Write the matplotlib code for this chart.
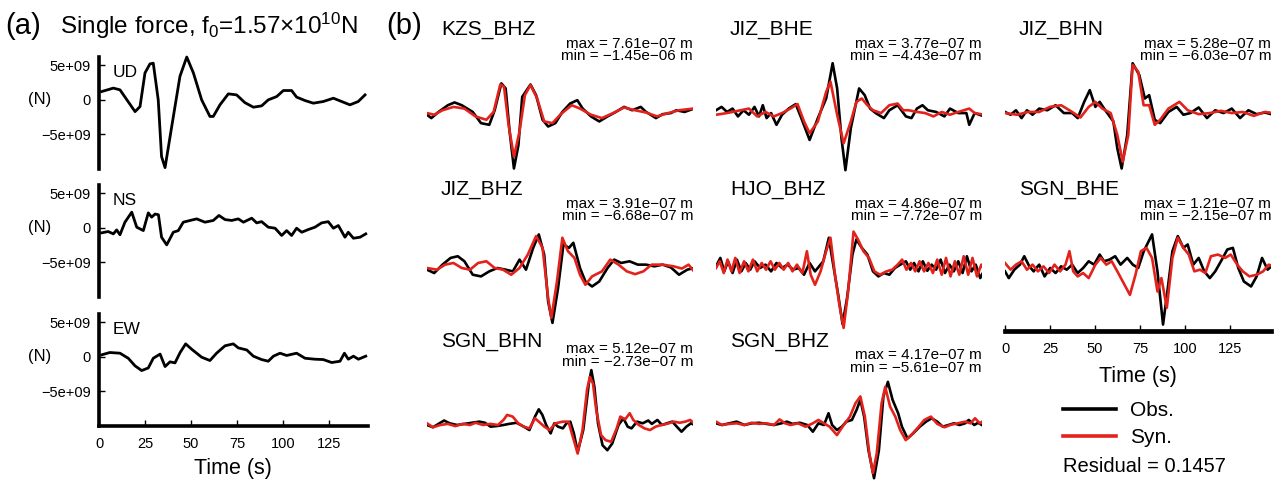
import matplotlib.pyplot as plt
from matplotlib.lines import Line2D

plt.rcParams["font.family"] = ["Liberation Sans", "DejaVu Sans"]
plt.rcParams["mathtext.fontset"] = "custom"
plt.rcParams["mathtext.rm"] = "Liberation Sans"
plt.rcParams["mathtext.it"] = "Liberation Sans:italic"

# ---------------- panel (a): single force time functions (1e9 N) -------------
COMPONENTS = ["UD", "NS", "EW"]
UD = [[1.4, 1.2], [7.8, 1.7], [11.4, 1.45], [19.6, -1.7], [22.3, -0.97], [25.0, 3.9],
      [27.7, 5.2], [29.5, 5.3], [32.2, 0.0], [34.0, -8.2], [35.9, -9.8], [39.5, -3.9],
      [44.0, 3.4], [47.7, 6.2], [51.3, 3.9], [55.8, 0.0], [60.3, -2.4], [62.1, -2.4],
      [65.8, -0.7], [70.3, 0.87], [74.8, 0.72], [79.3, -0.4], [83.9, -1.06], [88.4, -0.87],
      [92.0, 0.0], [96.6, 0.48], [100.2, 1.35], [104.7, 1.35], [107.4, 0.4], [112.0, -0.1],
      [116.5, -0.48], [121.9, -0.24], [127.4, 0.24], [131.9, -0.24], [136.4, -0.72],
      [140.9, -0.24], [144.6, 0.72]]
NS = [[1.4, -0.72], [5.0, -0.53], [7.8, -0.87], [9.6, -0.3], [11.4, -1.0], [14.1, 0.82],
      [17.8, 2.27], [20.5, 0.1], [24.1, -0.39], [26.8, 2.17], [28.6, 1.55], [30.5, 2.0],
      [32.3, 1.9], [34.0, -1.35], [36.8, -2.46], [40.4, -0.63], [43.1, -0.4], [45.8, 0.82],
      [49.5, 1.07], [53.1, 1.3], [57.6, 0.82], [62.1, 1.07], [65.2, 1.79], [68.5, 1.2],
      [72.1, 1.07], [75.7, 1.3], [78.5, 0.82], [83.0, 1.4], [85.7, 0.72], [88.4, 0.9],
      [92.0, 0.1], [95.7, -0.05], [99.3, -1.1], [102.0, -0.4], [104.7, -1.1], [107.4, -0.05],
      [110.2, -0.63], [113.8, -0.24], [117.4, 0.1], [121.0, 0.72], [124.6, 0.9],
      [127.4, -0.05], [130.1, 0.34], [133.7, -1.35], [135.5, -0.63], [138.3, -1.5],
      [141.9, -1.35], [145.0, -0.87]]
EW = [[1.4, 0.29], [5.9, 0.63], [11.4, 0.53], [15.9, -0.2], [19.6, -1.3], [23.2, -1.98],
      [26.8, -1.6], [29.5, -0.2], [33.2, 0.4], [35.9, -1.4], [38.6, -0.72], [41.3, -0.87],
      [44.1, 0.63], [47.1, 1.88], [50.4, 1.1], [55.8, -0.05], [60.3, -0.53], [63.9, 0.53],
      [68.5, 1.6], [73.0, 1.88], [75.7, 1.3], [80.3, 1.0], [83.9, 0.1], [88.4, -0.39],
      [92.0, -0.63], [94.8, 0.1], [98.4, 0.53], [102.0, 0.2], [107.4, 0.53], [112.0, -0.2],
      [117.4, -0.34], [121.9, -0.39], [126.5, -0.82], [131.0, -0.63], [133.4, 0.53],
      [135.5, -0.34], [138.3, 0.1], [141.0, -0.34], [145.0, 0.1]]
FORCE = [UD, NS, EW]

# ---------------- panel (b): normalised waveforms ----------------------------
STATIONS = ["KZS_BHZ", "JIZ_BHE", "JIZ_BHN", "JIZ_BHZ", "HJO_BHZ", "SGN_BHE",
            "SGN_BHN", "SGN_BHZ"]
AMP_MAX = [7.61e-07, 3.77e-07, 5.28e-07, 3.91e-07, 4.86e-07, 1.21e-07, 5.12e-07, 4.17e-07]
AMP_MIN = [-1.45e-06, -4.43e-07, -6.03e-07, -6.68e-07, -7.72e-07, -2.15e-07,
           -2.73e-07, -5.61e-07]
RESIDUAL = 0.1457

KZS_BHZ_OBS = [[0, -0.04], [2.4, -0.1], [6.4, 0.01], [11.6, 0.13], [15.3, 0.18], [19.3, 0.13],
               [25.4, 0.01], [30, -0.19], [34.6, -0.22], [37.6, 0.04], [41.3, 0.52],
               [43.7, 0.43], [45.9, -0.34], [48.3, -1.0], [50.8, -0.58], [52.9, 0.28],
               [57.5, 0.5], [60.6, 0.31], [64.2, -0.13], [67.3, -0.25], [71.3, -0.19],
               [75.2, 0.01], [79.5, 0.16], [83.5, 0.22], [86.5, 0.07], [91.1, -0.07],
               [95.7, -0.16], [100.3, -0.07], [104.9, 0.01], [109.5, 0.1], [114, 0.04],
               [118.7, 0.1], [121.7, 0.01], [127.2, -0.1], [130.9, -0.03], [135.5, -0.01],
               [138.5, 0.04], [143.1, 0.01], [148.3, 0.07]]
KZS_BHZ_SYN = [[0, -0.01], [4, -0.04], [8.6, 0.04], [14.7, 0.1], [20.8, 0.07], [26.9, -0.07],
               [33, -0.13], [37, 0.01], [40.7, 0.5], [42.8, 0.46], [45.3, -0.22],
               [48.3, -0.79], [51.4, -0.34], [54.4, 0.31], [57.5, 0.49], [61.2, 0.25],
               [65.1, -0.16], [69.7, -0.19], [74.3, -0.03], [80.4, 0.13], [85, 0.07],
               [91.1, -0.04], [97.2, -0.1], [103.4, -0.01], [109.5, 0.09], [115.6, 0.04],
               [121.7, 0], [127.8, -0.07], [134, -0.01], [140, 0.04], [148, 0.07]]
JIZ_BHE_OBS = [[0, 0.04], [3.1, 0.1], [6.1, 0.01], [9.2, 0.07], [12.2, -0.07], [15.3, 0.04],
               [18.3, -0.04], [21.4, 0.1], [23.9, -0.07], [26, 0.13], [28.1, -0.1],
               [30.6, -0.01], [33.6, -0.22], [36.7, -0.04], [40.4, 0.07], [44.3, 0.15],
               [47.4, -0.1], [52, -0.49], [56.6, -0.1], [61.2, 0.25], [64.8, 0.88],
               [67.3, 0.43], [69.7, -0.46], [71.9, -1.03], [74.9, -0.28], [79.5, 0.43],
               [82.6, 0.31], [85.6, 0.07], [88.7, -0.01], [93.3, -0.1], [96.3, 0.04],
               [100.9, 0.13], [105.5, -0.07], [108.6, -0.1], [111.6, 0.07], [114.7, 0.13],
               [117.7, 0.04], [122.3, 0.01], [126.9, -0.07], [130, 0.07], [134.6, -0.01],
               [139.1, -0.01], [140.7, -0.22], [143.7, -0.01], [149, -0.07]]
JIZ_BHE_SYN = [[0, -0.04], [6.1, -0.01], [12.2, 0.03], [18.3, 0.07], [22.9, -0.07],
               [27.5, 0.01], [32.1, -0.07], [36.7, -0.01], [41.3, 0.07], [45.3, 0.15],
               [48.9, -0.16], [52, -0.37], [56.6, -0.16], [61.2, 0.37], [63.6, 0.55],
               [67.3, -0.04], [70.9, -0.55], [74.9, -0.16], [78, 0.19], [81, 0.25],
               [84.1, 0.13], [87.2, 0.04], [91.7, -0.01], [96.3, 0.13], [100.9, 0.16],
               [104, 0.04], [107, 0.04], [111.6, 0.01], [116.2, -0.01], [120.8, -0.07],
               [125.4, 0.01], [130, -0.04], [134.6, 0.01], [140.7, 0.07], [143.7, -0.01],
               [149, -0.04]]
JIZ_BHN_OBS = [[0, 0.01], [3.1, -0.04], [6.1, 0.04], [9.2, -0.1], [12.2, 0.04], [15.3, -0.04],
               [19, 0.07], [23.5, 0.04], [28.1, 0.13], [32.7, -0.01], [37.3, -0.01],
               [40.4, -0.1], [44, 0.19], [47.1, 0.4], [50.2, 0.1], [52.6, 0.19], [55.7, 0.04],
               [60.2, -0.16], [62.4, -0.64], [64.8, -1.0], [67.9, -0.4], [70.9, 0.88],
               [74.6, 0.67], [77.7, 0.25], [80.1, 0.31], [83.2, -0.13], [86.2, -0.19],
               [90.8, 0.01], [95.4, 0.1], [99.1, -0.04], [103, -0.01], [107.6, 0.09],
               [112.2, -0.1], [116.8, 0.04], [121.4, -0.01], [126, 0.07], [130.6, -0.1],
               [135.2, 0.04], [139.8, -0.03], [144.4, 0.0], [149, -0.04]]
JIZ_BHN_SYN = [[0, -0.01], [6.7, -0.04], [12.8, 0.01], [19, 0.01], [25, 0.1], [31.2, 0.13],
               [37.3, 0.01], [41.9, -0.09], [46.5, 0.1], [50.2, 0.19], [54.1, 0.07],
               [58.7, -0.01], [62.4, -0.4], [65.4, -0.88], [68.5, -0.4], [70.9, 0.85],
               [74, 0.73], [77, 0.13], [80.1, 0.13], [83.2, -0.22], [86.2, -0.13],
               [90.8, 0.07], [96.9, 0.19], [101.5, 0.04], [107.6, -0.03], [113.8, -0.01],
               [119.9, 0.03], [126, -0.01], [132.1, 0.01], [138.2, -0.06], [144.4, 0.01],
               [149, -0.01]]
JIZ_BHZ_OBS = [[0, -0.03], [4, -0.09], [8.6, 0.06], [13.1, 0.18], [17.1, 0.21], [20.8, 0.12],
               [25.4, -0.12], [30, -0.15], [34.6, -0.06], [39.1, 0], [43.7, -0.03],
               [47.7, -0.06], [51.4, 0.15], [55, -0.03], [59, 0.36], [62.1, 0.6],
               [65.1, 0.24], [67.3, -0.6], [69.7, -0.98], [72.8, -0.36], [75.8, 0.42],
               [78.9, 0.36], [81.3, 0.45], [85, 0], [88, -0.24], [91.7, -0.33], [95.7, -0.24],
               [100.3, 0], [104, 0.15], [107.9, 0.09], [112.5, 0.12], [117.1, 0.06],
               [121.7, 0.06], [126.3, 0.03], [130.9, 0.06], [135.5, 0.01], [140, -0.12],
               [144.6, -0.03], [148.3, 0]]
JIZ_BHZ_SYN = [[0, 0], [5.5, -0.03], [10.1, 0.06], [14.7, 0.09], [19.3, 0], [23.9, -0.03],
               [28.4, 0.09], [33, 0.12], [37.6, 0], [42.2, -0.03], [46.8, -0.12], [51.4, 0],
               [56, 0.24], [60.6, 0.57], [64.2, 0.36], [67.3, -0.54], [69.1, -0.89],
               [72.2, -0.24], [75.2, 0.54], [78.3, 0.3], [81.9, 0.18], [85, -0.12],
               [88, -0.3], [91.7, -0.15], [97.2, -0.06], [101.8, 0.15], [106.4, 0.06],
               [111, -0.06], [115.6, -0.11], [120.2, -0.06], [124.8, 0.06], [130.9, 0.06],
               [137, 0.03], [141.6, -0.01], [145.3, 0.06], [148.3, -0.06]]
HJO_BHZ_OBS = [[0, 0.03], [2.4, 0.18], [4.6, -0.06], [6.7, 0.12], [9.2, -0.09], [11.6, 0.15],
               [14.1, -0.06], [16.5, 0.09], [19, -0.03], [21.4, 0.12], [24.5, 0], [27.5, 0.06],
               [30.6, -0.06], [33.6, 0.09], [36.7, 0], [39.8, 0.06], [42.8, -0.03], [45.9, 0],
               [48.9, -0.12], [52, 0.09], [55, -0.06], [59.6, 0.12], [62.7, 0.54],
               [64.8, 0.12], [67.9, -0.48], [70.3, -1.0], [72.8, -0.54], [75.8, 0.24],
               [78, 0.51], [81, 0.36], [84.1, 0.24], [87.2, -0.06], [90.2, -0.15],
               [93.3, -0.09], [96.3, -0.12], [99.4, 0], [102.4, 0.06], [105.5, 0.12],
               [107.9, -0.03], [110, 0.09], [112.5, -0.06], [114.9, 0.12], [117.4, -0.05],
               [119.8, 0.06], [122.3, -0.03], [124.8, 0.15], [127.2, -0.09], [129.7, 0.06],
               [132.1, -0.06], [134.6, 0.12], [137, -0.09], [139.4, 0.21], [141.9, -0.06],
               [144.3, 0.06], [146.8, -0.18], [149.2, -0.03]]
HJO_BHZ_SYN = [[0, 0], [2.1, 0.12], [4.3, -0.09], [6.4, 0.15], [8.6, -0.06], [10.7, 0.18],
               [13.1, -0.09], [15.6, 0.12], [18, -0.06], [20.5, 0.15], [22.9, -0.06],
               [25.4, 0.09], [27.8, -0.03], [30.3, 0.12], [32.7, -0.03], [35.2, 0.09],
               [37.6, -0.03], [40.1, 0.09], [42.5, -0.06], [45, 0.06], [48, -0.09],
               [50.5, 0.3], [52.6, -0.12], [55, -0.3], [58.1, -0.06], [61.2, 0.3],
               [63.6, 0.54], [66.1, -0.12], [68.5, -0.65], [70.9, -1.07], [73.4, -0.42],
               [76.4, 0.65], [78.9, 0.51], [81.9, 0.3], [85, 0.18], [88, -0.06], [91.1, -0.12],
               [94.7, -0.06], [97.9, -0.03], [100.9, 0.06], [103.4, 0.15], [105.8, -0.03],
               [108.3, 0.09], [110.7, -0.06], [113.1, 0.12], [115.6, -0.06], [118, 0.09],
               [120.5, -0.09], [122.9, 0.15], [125.4, -0.12], [127.8, 0.18], [130.3, -0.15],
               [132.7, 0.12], [135.2, -0.12], [137.6, 0.21], [140.1, -0.12], [142.5, 0.18],
               [145, -0.15], [147.4, 0.06], [149, -0.03]]
SGN_BHE_OBS = [[0, -0.06], [2.1, -0.18], [5.2, -0.03], [8.3, 0.06], [10.7, 0.21], [13.5, 0.03],
               [15.9, -0.06], [19, 0.06], [22, -0.15], [25.1, 0], [28.1, -0.09], [31.2, 0.03],
               [34.3, -0.03], [37.3, 0.06], [40.4, -0.09], [43.4, 0], [46.5, 0.12],
               [49.5, 0.06], [52.6, 0.24], [55, 0.12], [58.1, 0.15], [61.2, 0.21],
               [64.2, 0.06], [67.9, 0.18], [71, 0.06], [74, 0], [77.1, 0.3], [81.7, 0.6],
               [84.7, -0.06], [87.8, -1.01], [90.2, -0.42], [93, 0.3], [96, 0.57],
               [99.1, 0.36], [101.5, 0.42], [104.6, 0.06], [107.6, 0.18], [110.7, -0.06],
               [113.8, -0.18], [116.8, -0.06], [120.5, 0.15], [123.5, 0.33], [126.6, 0.36],
               [129.6, 0], [132.7, -0.24], [136.7, -0.33], [139.8, -0.15], [142.8, 0.18],
               [145.9, -0.03], [149, 0.06]]
SGN_BHE_SYN = [[0, 0.09], [3.1, -0.03], [6.1, 0.06], [9.2, 0.12], [12.2, -0.03], [15.3, 0.06],
               [18.3, -0.06], [21.4, 0.03], [24.5, -0.09], [27.5, 0.06], [30.6, -0.06],
               [33.6, 0.06], [35.8, 0.3], [37.9, -0.06], [40.4, -0.15], [43.4, -0.09],
               [46.5, -0.18], [50.2, 0.06], [53.2, 0.18], [56.3, 0.06], [59.3, 0.12],
               [62.4, -0.06], [65.4, -0.24], [69.4, -0.48], [72.5, -0.12], [75.5, 0.3],
               [78.6, 0.36], [81.7, 0.18], [84.7, -0.42], [86.9, -0.18], [89.9, -0.71],
               [93, 0.18], [96, 0.54], [99.1, 0.36], [102.1, 0.24], [105.2, -0.06],
               [108.3, -0.03], [111.3, -0.09], [114.4, 0.21], [118.3, 0.24], [122.3, 0.18],
               [125.4, 0.24], [129, 0.06], [132.1, -0.06], [135.8, -0.15], [139.8, -0.12],
               [143.4, -0.06], [146.5, 0.06], [149, 0.03]]
SGN_BHN_OBS = [[0, 0], [3.3, -0.04], [6.4, 0.02], [9.5, 0.08], [12.6, 0.03], [16.7, 0],
               [20.8, 0.02], [24.9, 0.04], [29.1, 0.06], [32.2, 0.04], [35.3, -0.03],
               [38.4, -0.02], [42.5, 0], [45.6, 0.02], [49.7, 0.04], [53.8, -0.03],
               [56.9, -0.09], [60, 0.15], [62.1, 0.28], [64.1, 0.18], [66.2, 0], [68.7, -0.15],
               [70.7, 0.03], [72.8, -0.03], [75.5, -0.06], [77.5, 0.03], [79.6, 0.06],
               [81.6, -0.15], [83.7, -0.48], [86.8, -0.09], [89.9, 0.74], [91.3, 0.98],
               [93, 0.68], [95, 0.03], [97.5, -0.36], [100.2, -0.45], [102.9, -0.33],
               [106.4, 0], [109.1, 0.12], [111.5, -0.03], [113.6, -0.06], [116.7, 0.06],
               [119.8, 0.03], [122.9, 0.08], [124.9, 0.02], [128, 0.09], [130.5, 0],
               [133.2, 0.03], [136.3, 0.06], [138.8, -0.03], [141.4, -0.12], [144.1, -0.03],
               [146.6, 0.03], [148.7, 0]]
SGN_BHN_SYN = [[0, 0.03], [3.3, -0.04], [7.4, 0], [11.5, 0.02], [15.7, -0.02], [19.8, 0.02],
               [23.9, 0], [27, 0.04], [31.1, 0], [35.3, 0.02], [39.4, 0], [42.5, 0.09],
               [44.5, 0.18], [47.6, 0.15], [50.7, 0.03], [53.8, -0.03], [56.9, -0.06],
               [60, 0.12], [62.1, 0.06], [65.2, -0.03], [68.2, -0.09], [71.3, 0.03],
               [75.5, 0.06], [78.6, 0.06], [81, -0.21], [83.7, -0.51], [86.4, -0.09],
               [88.9, 0.63], [90.5, 0.86], [92.2, 0.74], [94, 0.27], [96.7, -0.18],
               [99.2, -0.27], [102.3, -0.3], [105.4, -0.06], [107.4, 0.15], [110.1, 0.1],
               [112.6, 0.21], [114.6, 0.09], [117.7, 0], [120.8, -0.06], [123.9, -0.09],
               [127, -0.03], [130.1, 0], [133.2, 0.02], [137.3, 0.06], [140.4, 0.04],
               [143.5, 0.06], [146.2, 0.09], [148.7, 0.02]]
SGN_BHZ_OBS = [[0, 0.03], [3.3, 0], [7.4, 0.03], [11.5, 0.06], [15.7, 0], [19.8, 0.03],
               [23.9, 0.04], [28, 0.02], [32.2, 0], [36.3, 0.03], [39.4, 0.06], [42.5, 0.02],
               [46.6, 0.04], [50.7, 0], [53.8, -0.12], [56.9, 0.03], [60, 0], [62.5, 0.21],
               [64.5, 0], [67.2, -0.09], [69.9, -0.03], [72.4, 0.06], [75.5, 0.09],
               [78.1, 0.27], [80.2, 0.45], [82.3, 0.15], [84.7, -0.45], [87.8, -0.95],
               [90.5, -0.45], [93, 0.51], [95.5, 0.77], [98.1, 0.45], [101.2, 0.21],
               [103.3, -0.03], [106.4, -0.24], [109.5, -0.15], [113.2, -0.03], [116.7, 0.06],
               [119.8, 0.12], [122.9, 0.06], [126, -0.03], [129.1, 0], [132.2, 0.03],
               [135.3, 0], [138.4, 0.03], [140.4, 0.09], [143.5, 0], [145.6, 0.04],
               [148.7, -0.02]]
SGN_BHZ_SYN = [[0, 0.06], [3.3, 0], [7.4, 0.02], [11.5, 0.03], [15.7, 0], [19.8, 0.04],
               [23.9, 0.02], [28, 0.03], [32.2, 0], [35.3, 0.1], [38.4, 0.03], [41.4, 0],
               [45.6, 0.03], [49.7, -0.03], [53.8, 0.03], [56.9, 0.09], [60, 0.03],
               [63.1, -0.03], [67.2, -0.18], [70.3, -0.03], [74.4, 0.15], [77.5, 0.39],
               [80.2, 0.51], [82.7, 0.15], [85.2, -0.51], [87.2, -0.86], [89.3, -0.51],
               [92, 0.39], [94, 0.68], [96.7, 0.33], [99.6, 0.15], [102.3, -0.09],
               [105.4, -0.27], [108.5, -0.18], [112.6, -0.03], [115.7, 0.09], [119.4, 0.15],
               [122.9, 0.02], [127, -0.04], [130.1, 0], [134.2, 0.03], [138.4, 0.06],
               [141.4, 0.03], [143.9, 0.12], [146.6, 0.03], [148.7, 0.08]]

OBS = [KZS_BHZ_OBS, JIZ_BHE_OBS, JIZ_BHN_OBS, JIZ_BHZ_OBS, HJO_BHZ_OBS, SGN_BHE_OBS,
       SGN_BHN_OBS, SGN_BHZ_OBS]
SYN = [KZS_BHZ_SYN, JIZ_BHE_SYN, JIZ_BHN_SYN, JIZ_BHZ_SYN, HJO_BHZ_SYN, SGN_BHE_SYN,
       SGN_BHN_SYN, SGN_BHZ_SYN]

RED = "#e3221c"

# ---------------- layout (pixels) ---------------------------------------------
W, H = 1287, 482


def rect(x0, y0, x1, y1):
    """Pixel box (top-left origin) -> figure axes rect."""
    return [x0 / W, 1 - y1 / H, (x1 - x0) / W, (y1 - y0) / H]


def fx(px):
    return px / W


def fy(py):
    return 1 - py / H


fig = plt.figure(figsize=(W / 100, H / 100), dpi=100)

# ---------------- panel (a) ---------------------------------------------------
fig.text(fx(5), fy(34), "(a)", fontsize=21, va="baseline")
fig.text(fx(60), fy(34), "Single force, f$_0$=1.57\u00d710$^{10}$N", fontsize=17.5,
         va="baseline")

tops = [57, 185, 314]
for i, (name, trace) in enumerate(zip(COMPONENTS, FORCE)):
    ax = fig.add_axes(rect(99, tops[i], 367.6, tops[i] + 112))
    t = [p[0] for p in trace]
    v = [p[1] * 1e9 for p in trace]
    ax.plot(t, v, color="black", lw=2.0, clip_on=False)
    ax.set_xlim(0, 146)
    ax.set_ylim(-10e9, 6.2e9)
    for s in ["top", "right"]:
        ax.spines[s].set_visible(False)
    ax.spines["left"].set_linewidth(2.6)
    ax.set_yticks([5e9, 0, -5e9])
    ax.set_yticklabels(["5e+09", "0", "\u22125e+09"])
    ax.tick_params(axis="y", direction="in", length=4, width=1, labelsize=10.5, pad=6)
    ax.set_ylabel("(N)", rotation=0, fontsize=12, va="center", ha="center")
    ax.yaxis.set_label_coords(-0.22, 10 / 16.2)
    ax.text(0.052, 0.86, name, transform=ax.transAxes, fontsize=12.5, va="center")
    if i < 2:
        ax.spines["bottom"].set_visible(False)
        ax.set_xticks([])
    else:
        ax.spines["bottom"].set_linewidth(2.6)
        ax.set_xticks([0, 25, 50, 75, 100, 125])
        ax.tick_params(axis="x", direction="in", length=4, width=1, labelsize=10.5, pad=8)
        ax.set_xlabel("Time (s)", fontsize=15.5, labelpad=5)
    ax.patch.set_alpha(0)

# ---------------- panel (b) ---------------------------------------------------
fig.text(fx(386), fy(34), "(b)", fontsize=21, va="baseline")

col_x = [427, 716, 1005]
row_base = [112.5, 268, 425]
label_base = [35, 195, 347]
max_base = [48, 48, 48, 208, 208, 208, 353, 359]
unit = 56.0
half = 1.13

for k, name in enumerate(STATIONS):
    r, c = divmod(k, 3)
    x0 = col_x[c]
    yb = row_base[r]
    ax = fig.add_axes(rect(x0, yb - half * unit, x0 + 266.4, yb + half * unit))
    obs, syn = OBS[k], SYN[k]
    ax.plot([p[0] for p in obs], [p[1] for p in obs], color="black", lw=1.9)
    ax.plot([p[0] for p in syn], [p[1] for p in syn], color=RED, lw=1.9)
    ax.set_xlim(0, 148)
    ax.set_ylim(-half, half)
    ax.set_yticks([])
    for s in ["top", "right", "left"]:
        ax.spines[s].set_visible(False)
    if k == 5:
        ax.spines["bottom"].set_linewidth(3.4)
        ax.set_xticks([0, 25, 50, 75, 100, 125])
        ax.tick_params(axis="x", direction="in", length=4, width=1, labelsize=10.5, pad=8)
        ax.set_xlabel("Time (s)", fontsize=15.5, labelpad=7)
    else:
        ax.spines["bottom"].set_visible(False)
        ax.set_xticks([])
    ax.patch.set_alpha(0)

    fig.text(fx(x0 + 14), fy(label_base[r]), name, fontsize=15, va="baseline")
    smax = f"max = {AMP_MAX[k]:.2e} m".replace("-", "\u2212")
    smin = f"min = {AMP_MIN[k]:.2e} m".replace("-", "\u2212")
    fig.text(fx(x0 + 266), fy(max_base[k]), smax, fontsize=11, ha="right", va="baseline")
    fig.text(fx(x0 + 266), fy(max_base[k] + 12.5), smin, fontsize=11, ha="right",
             va="baseline")

# legend in the empty ninth cell
lax = fig.add_axes(rect(1005, 380, 1272, 480))
lax.axis("off")
handles = [Line2D([], [], color="black", lw=2.6, label="Obs."),
           Line2D([], [], color=RED, lw=2.6, label="Syn.")]
lax.legend(handles=handles, loc="upper left", bbox_to_anchor=(fx(1063), fy(401)),
           bbox_transform=fig.transFigure, frameon=False, fontsize=15,
           handlelength=2.55, handletextpad=0.65, labelspacing=0.4, borderpad=0,
           borderaxespad=0)
fig.text(fx(1063), fy(472), f"Residual = {RESIDUAL}", fontsize=14.5, va="baseline")

fig.savefig("out.png", dpi=100)
